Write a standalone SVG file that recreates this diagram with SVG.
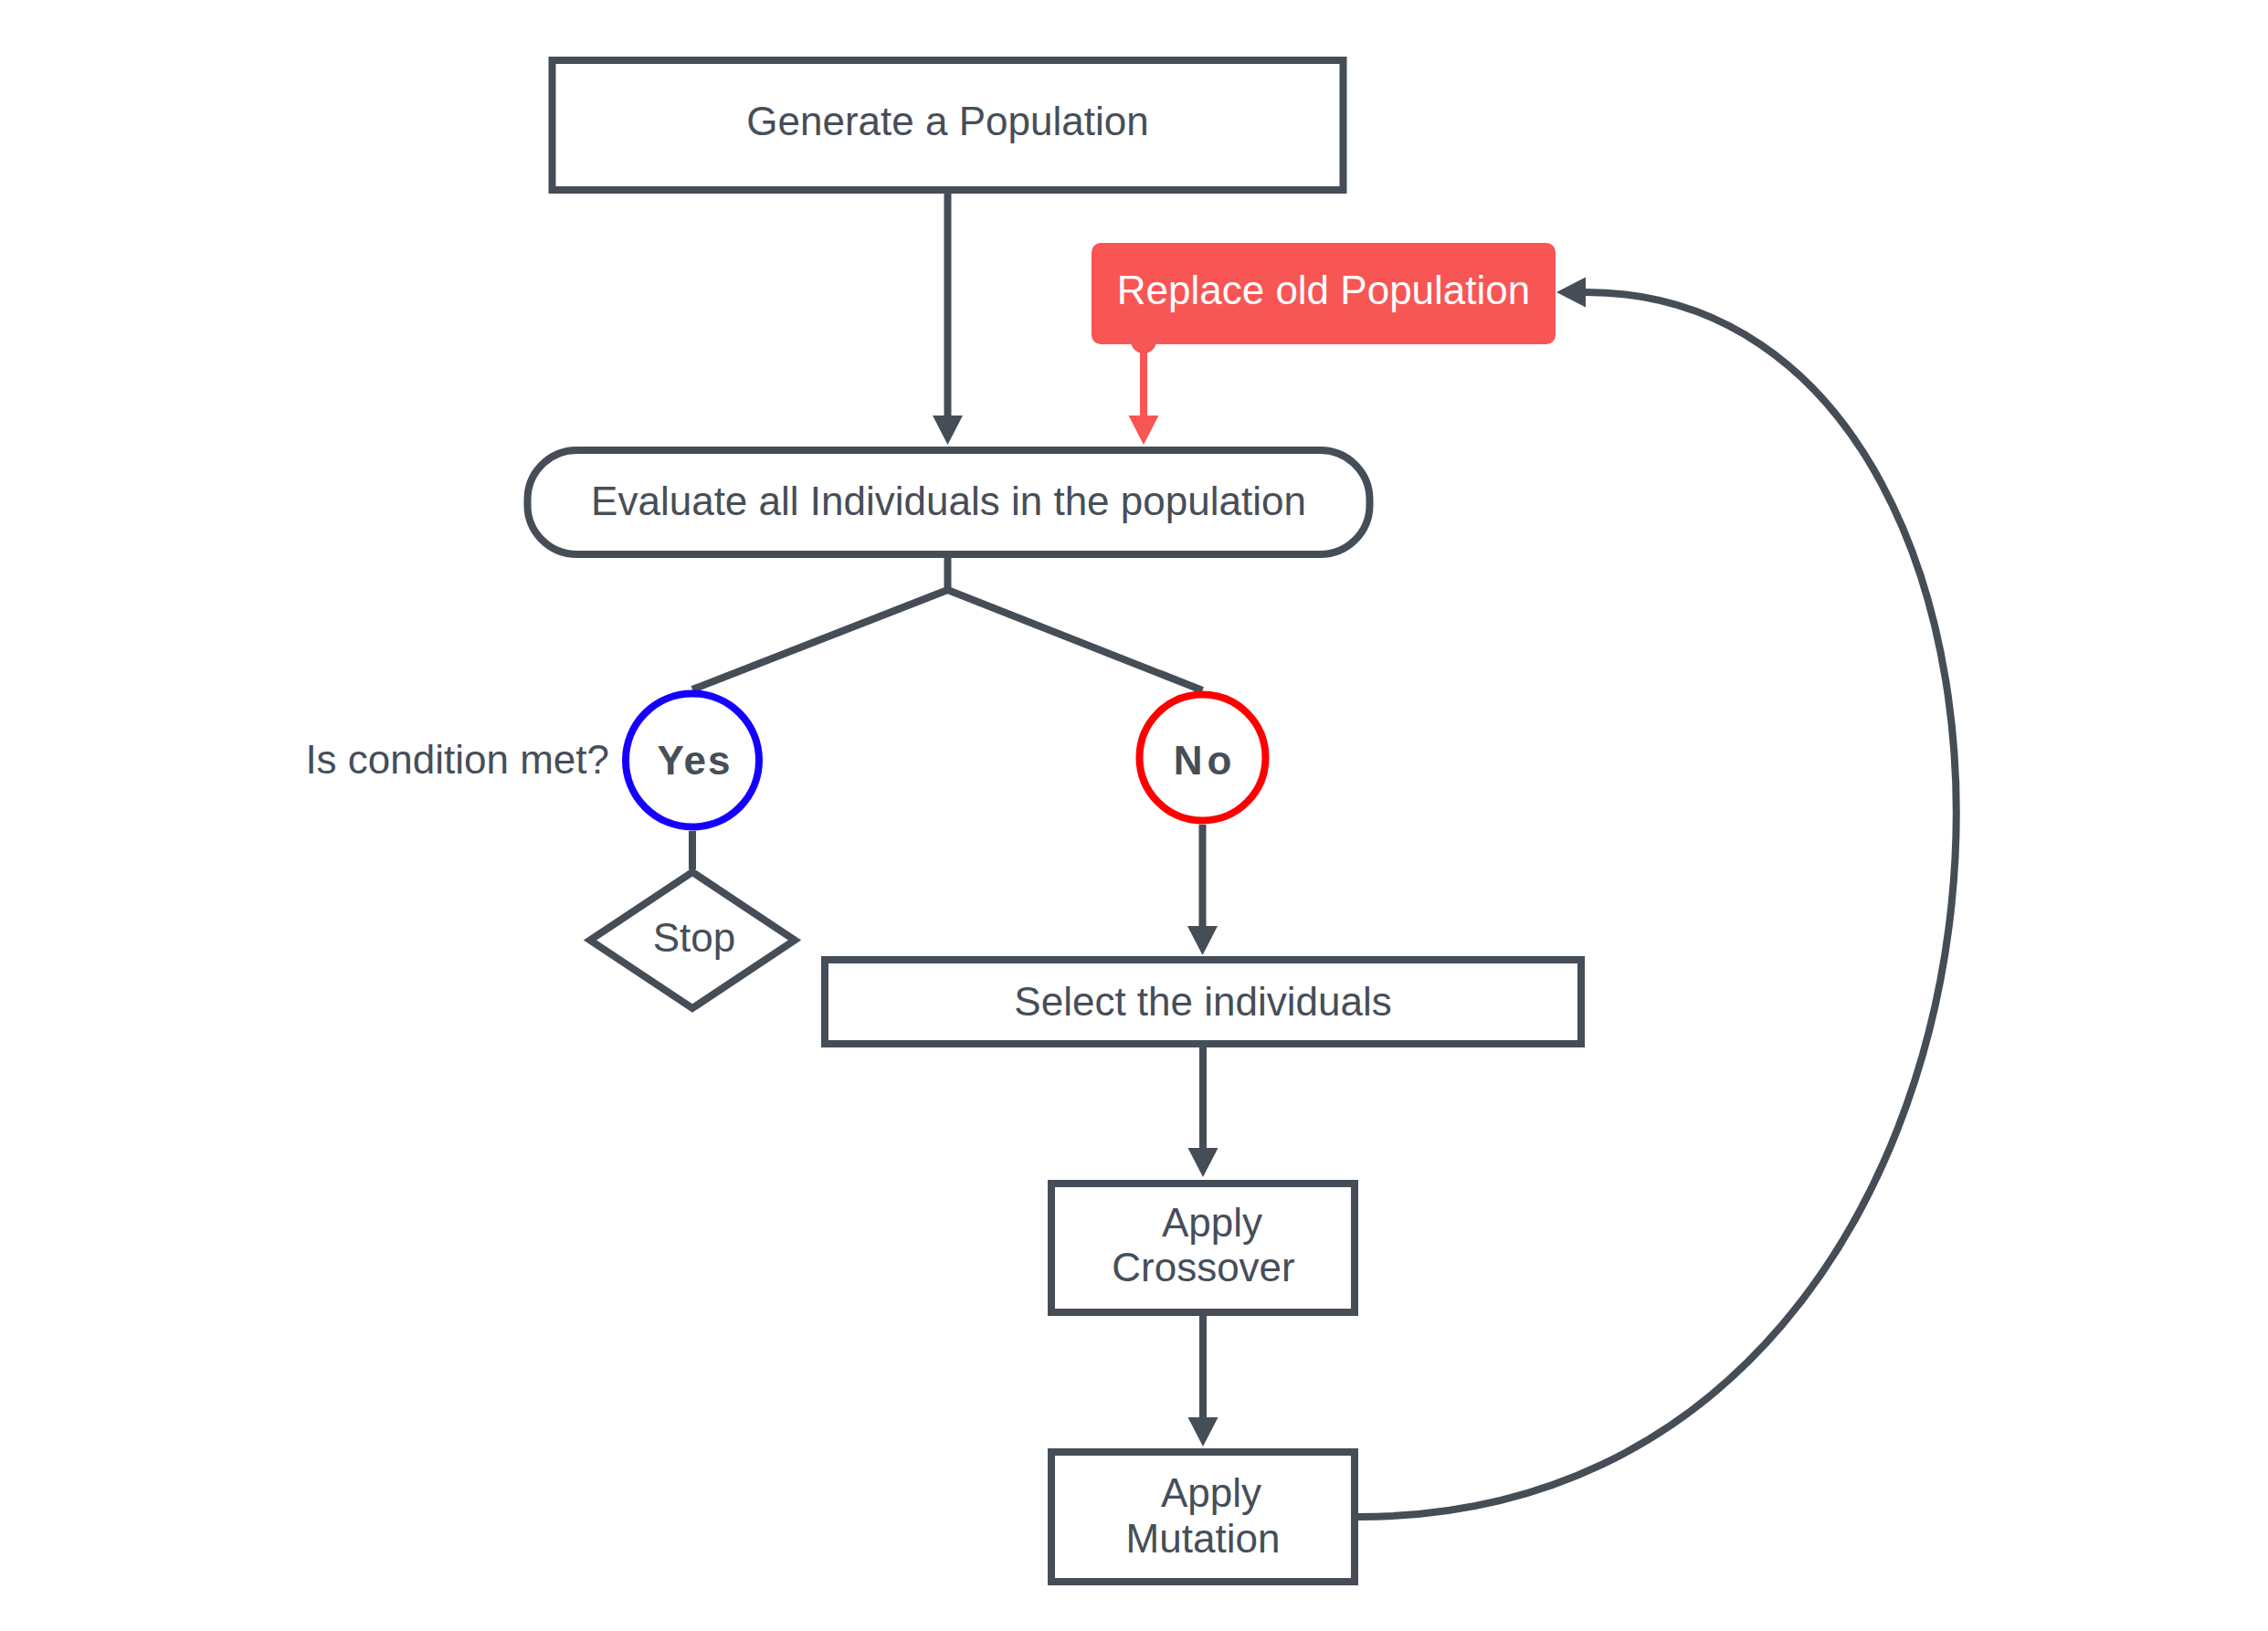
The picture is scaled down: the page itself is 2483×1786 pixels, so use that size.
<svg xmlns="http://www.w3.org/2000/svg" width="2483" height="1786" viewBox="0 0 2483 1786">
<style>
.box{fill:#ffffff;stroke:#454d57;stroke-width:8}
.t{font-family:"Liberation Sans",Arial,sans-serif;font-size:44px;fill:#464e58;text-anchor:middle}
.b{font-weight:bold}
.c{fill:none;stroke:#454d57;stroke-width:8}
</style>
<defs>
<marker id="ah" markerUnits="userSpaceOnUse" markerWidth="34" markerHeight="34" refX="0" refY="16.5" orient="auto">
<path d="M0,0 L32,16.5 L0,33 Z" fill="#454d57"/>
</marker>
<marker id="ahr" markerUnits="userSpaceOnUse" markerWidth="34" markerHeight="34" refX="0" refY="16.5" orient="auto">
<path d="M0,0 L32,16.5 L0,33 Z" fill="#f85555"/>
</marker>
</defs>
<rect width="2483" height="1786" fill="#ffffff"/>
<g id="connectors">
<path class="c" d="M1037.5,212 V455" marker-end="url(#ah)"/>
<circle cx="1252" cy="373" r="14" fill="#f85555"/>
<path d="M1252,377 V455" fill="none" stroke="#f85555" stroke-width="8" marker-end="url(#ahr)"/>
<path class="c" d="M1037.5,611 V646 L758,755"/>
<path class="c" d="M1037.5,646 L1316.5,756"/>
<path class="c" d="M758,910 V952"/>
<path class="c" d="M1316.5,903 V1014" marker-end="url(#ah)"/>
<path class="c" d="M1317,1147 V1257" marker-end="url(#ah)"/>
<path class="c" d="M1317,1441 V1552" marker-end="url(#ah)"/>
<path class="c" d="M1487,1661 C2297,1661 2326,320 1736,320" marker-end="url(#ah)"/>
</g>
<g id="generate">
<rect class="box" x="604.5" y="66" width="866" height="142"/>
<text class="t" x="1037.5" y="148">Generate a Population</text>
</g>
<g id="replace">
<rect x="1195" y="266" width="508" height="111" rx="10" fill="#f85555"/>
<text class="t" x="1449" y="333" style="fill:#ffffff">Replace old Population</text>
</g>
<g id="evaluate">
<rect class="box" x="577.5" y="493" width="922" height="114" rx="54"/>
<text class="t" x="1038.5" y="564">Evaluate all Individuals in the population</text>
</g>
<g id="condition-label">
<text class="t" x="667" y="847" style="text-anchor:end">Is condition met?</text>
</g>
<g id="yes">
<circle cx="758" cy="832.5" r="73" fill="#ffffff" stroke="#1500ff" stroke-width="8"/>
<text class="t b" x="760.5" y="848" letter-spacing="2">Yes</text>
</g>
<g id="no">
<circle cx="1316.5" cy="829.5" r="69" fill="#ffffff" stroke="#ff0000" stroke-width="8"/>
<text class="t b" x="1319" y="848" letter-spacing="5">No</text>
</g>
<g id="stop">
<polygon class="box" points="758,955 870,1029.5 758,1104 646,1029.5"/>
<text class="t" x="760" y="1042">Stop</text>
</g>
<g id="select">
<rect class="box" x="903" y="1051" width="828" height="92"/>
<text class="t" x="1317" y="1112">Select the individuals</text>
</g>
<g id="crossover">
<rect class="box" x="1151" y="1296" width="332" height="141"/>
<text class="t" x="1327" y="1354">Apply</text>
<text class="t" x="1317.5" y="1403">Crossover</text>
</g>
<g id="mutation">
<rect class="box" x="1151" y="1590" width="332" height="142"/>
<text class="t" x="1326" y="1650">Apply</text>
<text class="t" x="1317" y="1700">Mutation</text>
</g>
</svg>
